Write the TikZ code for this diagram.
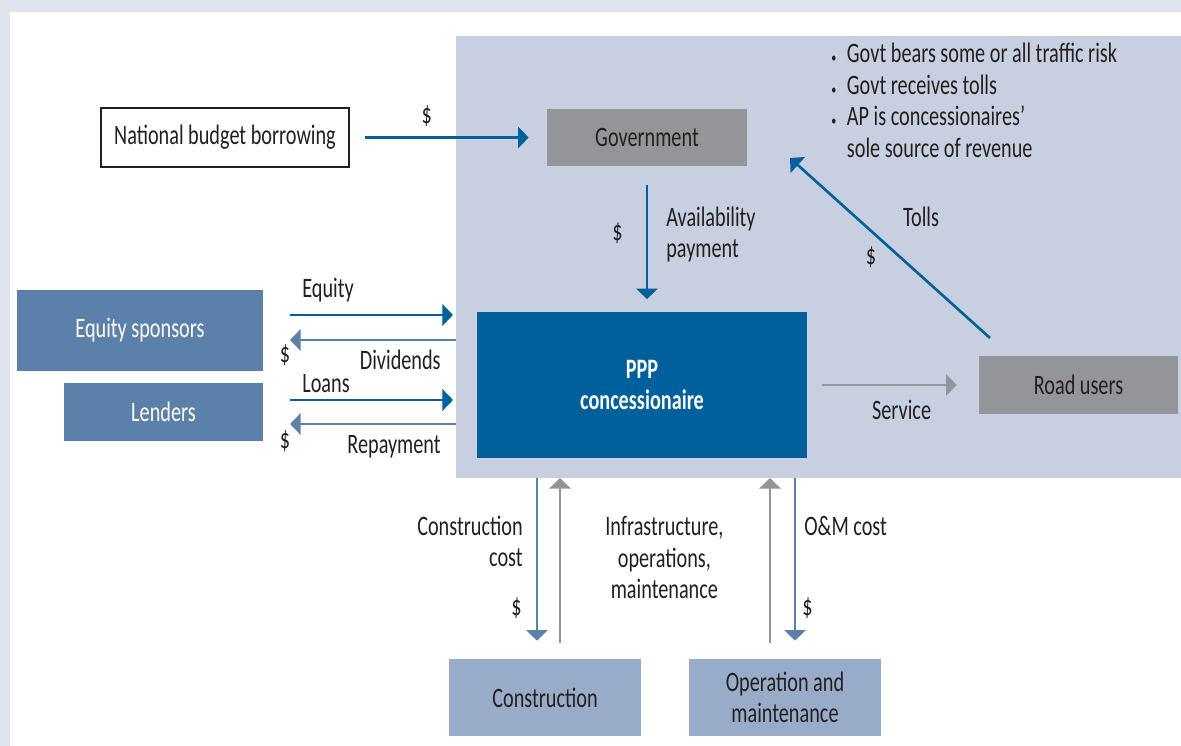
\documentclass[tikz,border=0pt]{standalone}
\usepackage{fontspec}
\setmainfont{Carlito}[FakeStretch=0.72]
\usetikzlibrary{arrows.meta}
\definecolor{pageblue}{HTML}{DFE4ED}
\definecolor{areablue}{HTML}{C8CFE1}
\definecolor{darkblue}{HTML}{00609B}
\definecolor{steelblue}{HTML}{5B80AA}
\definecolor{paleblue}{HTML}{98ABC9}
\definecolor{midgray}{HTML}{939598}
\definecolor{ink}{HTML}{231F20}

\begin{document}
\begin{tikzpicture}[x=0.02cm,y=-0.02cm,font=\fontsize{16}{18}\selectfont]
\tikzstyle{box} = [rectangle, inner sep=0pt, align=center, text=ink]
\tikzstyle{flow} = [-{Triangle[length=6pt,width=12pt]}, line width=1.5pt]
\tikzstyle{tag} = [inner sep=0pt, text=ink]
\useasboundingbox (0,0) rectangle (1181,746);
\fill [pageblue] (0,0) rectangle (1181,746);
\fill [white] (10,12) rectangle (1181,746);
\node [box, fill=areablue, minimum width=14.5cm, minimum height=8.84cm] (area) at (818.5,257) {};
\node [box, draw=ink, line width=1.2pt, fill=white, minimum width=4.96cm, minimum height=1.18cm] (budget) at (225,137.5) {National budget borrowing};
\node [box, fill=midgray, minimum width=4cm, minimum height=1.16cm] (gov) at (647,137.5) {Government};
\node [box, fill=darkblue, text=white, font=\fontsize{16}{18}\selectfont\bfseries, minimum width=6.6cm, minimum height=2.94cm] (ppp) at (642,385) {PPP\\concessionaire};
\node [box, fill=midgray, minimum width=3.98cm, minimum height=1.16cm] (road) at (1078.5,385) {Road users};
\node [box, fill=steelblue, text=white, minimum width=4.92cm, minimum height=1.62cm] (sponsors) at (140,330.5) {Equity sponsors};
\node [box, fill=steelblue, text=white, minimum width=3.98cm, minimum height=1.16cm] (lenders) at (163.5,412) {Lenders};
\node [box, fill=paleblue, minimum width=3.84cm, minimum height=1.54cm] (constr) at (545,697.5) {Construction};
\node [box, fill=paleblue, minimum width=3.84cm, minimum height=1.54cm] (om) at (785,697.5) {Operation and\\maintenance};
\node [tag, anchor=west, align=left] (notes) at (831,103.5) {\begin{tabular}{@{}l@{\hspace{6pt}}l@{}}
{\footnotesize\textbullet} & Govt bears some or all traffic risk\\
{\footnotesize\textbullet} & Govt receives tolls\\
{\footnotesize\textbullet} & AP is concessionaires’\\
 & sole source of revenue
\end{tabular}};
% free ends of the flows
\coordinate (tollfoot) at (990,338);
\coordinate (tolltip) at (790,158);
\coordinate (eqa) at (290,315);
\coordinate (eqb) at (453,315);
\coordinate (dva) at (456,340);
\coordinate (dvb) at (290,340);
\coordinate (loa) at (290,400);
\coordinate (lob) at (453,400);
\coordinate (rpa) at (456,424);
\coordinate (rpb) at (290,424);
\coordinate (cca) at (537,478);
\coordinate (ina) at (560,478);
\coordinate (oma) at (770,478);
\coordinate (omc) at (795,478);
% flows
\path (budget) edge [flow, darkblue, shorten <=0.3cm, shorten >=0.36cm] node [tag, pos=0.39, above=0.2cm] {\$} (gov);
\path (gov.south) edge [flow, darkblue, shorten <=0.36cm, shorten >=0.24cm] node [tag, pos=0.47, right=0.36cm, align=left] {Availability\\payment} node [tag, pos=0.46, left=0.46cm] {\$} (gov.south |- ppp.north);
\path (tollfoot) edge [flow, darkblue] node [tag, pos=0.49, xshift=0.58cm, yshift=0.65cm] {Tolls} node [tag, pos=0.53, xshift=-0.26cm, yshift=-0.29cm] {\$} (tolltip);
\path (ppp) edge [flow, midgray, shorten <=0.3cm, shorten >=0.44cm] node [tag, pos=0.55, below=0.27cm] {Service} (road);
\path (eqa) edge [flow, darkblue] node [tag, at start, anchor=west, xshift=0.22cm, yshift=0.5cm] {Equity} (eqb);
\path (dva) edge [flow, steelblue] node [tag, at start, anchor=east, xshift=-0.28cm, yshift=-0.4cm] {Dividends} node [tag, at end, xshift=-0.1cm, yshift=-0.3cm] {\$} (dvb);
\path (loa) edge [flow, darkblue] node [tag, at start, anchor=west, xshift=0.22cm, yshift=0.32cm] {Loans} (lob);
\path (rpa) edge [flow, steelblue] node [tag, at start, anchor=east, xshift=-0.28cm, yshift=-0.46cm] {Repayment} node [tag, at end, xshift=-0.1cm, yshift=-0.34cm] {\$} (rpb);
\path (cca) edge [flow, steelblue, shorten >=0.36cm] node [tag, pos=0.35, left=0.26cm, align=right] {Construction\\cost} node [tag, pos=0.72, left=0.28cm] {\$} (cca |- constr.north);
\path (ina |- constr.north) edge [flow, midgray, shorten <=0.32cm] node [tag, pos=0.56, right=0.88cm, align=center] {Infrastructure,\\operations,\\maintenance} (ina);
\path (oma |- om.north) edge [flow, midgray, shorten <=0.32cm] (oma);
\path (omc) edge [flow, steelblue, shorten >=0.36cm] node [tag, pos=0.265, right=0.16cm] {O\&M cost} node [tag, pos=0.72, right=0.12cm] {\$} (omc |- om.north);
\end{tikzpicture}
\end{document}
